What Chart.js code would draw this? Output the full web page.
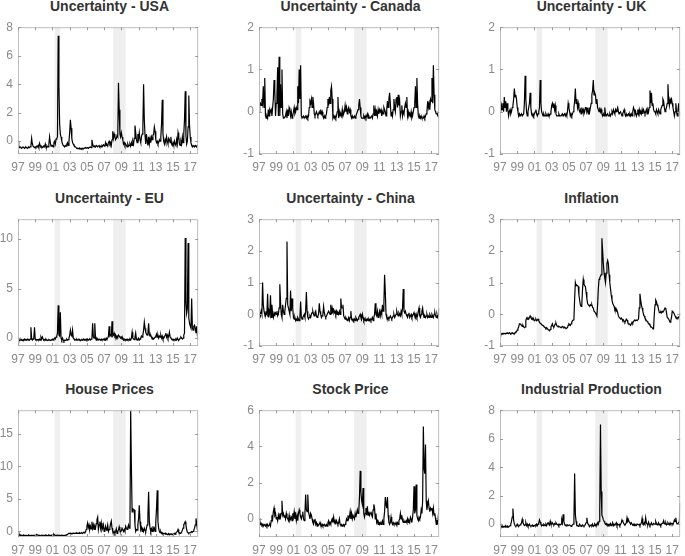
<!DOCTYPE html>
<html lang="en">
<head>
<meta charset="UTF-8">
<title>Uncertainty and macro series</title>
<script src="https://cdn.jsdelivr.net/npm/chart.js@4"></script>
<style>
    body {
        margin: 0;
        width: 685px;
        height: 556px;
        overflow: hidden;
        position: relative;
        background: #ffffff;
        font-family: 'Liberation Sans', Arial, sans-serif;
    }
    canvas { position: absolute; }
    .title {
        position: absolute;
        font-weight: bold;
        font-size: 14px;
        line-height: 16px;
        color: #333333;
        text-align: center;
        white-space: nowrap;
    }
</style>
</head>
<body>
<script>
// monthly data, Jan 1997 - Dec 2017, one row per year
const startYear = 1997;
const xTickYears = [1997, 1999, 2001, 2003, 2005, 2007, 2009, 2011, 2013, 2015, 2017];
const recessions = [[2001.25, 2001.9], [2008.05, 2009.5]];

const usa = [
    0.0, -0.35, -0.45, -0.4, -0.45, -0.5, -0.45, -0.4, -0.45, -0.5, -0.45, -0.4,
    -0.45, -0.5, -0.45, -0.4, -0.45, -0.4, -0.3, 0.2, -0.2, -0.35, -0.4, -0.45,
    -0.4, -0.45, -0.35, -0.4, -0.3, -0.45, -0.15, -0.3, -0.4, -0.35, -0.45, -0.4,
    -0.35, -0.4, -0.2, -0.4, -0.45, -0.35, -0.4, -0.2, 0.3, -0.1, -0.35, -0.3,
    -0.3, -0.4, -0.1, 0.0, -0.2, 0.15, 0.2, 0.3, 7.4, 3.9, 1.2, 0.5,
    0.3, 0.0, -0.2, -0.3, -0.35, -0.4, -0.3, -0.35, -0.2, -0.1, -0.3, 0.0,
    0.6, 1.5, 0.9, 0.2, -0.1, -0.2, -0.3, -0.35, -0.4, -0.45, -0.5, -0.5,
    -0.5, -0.55, -0.5, -0.55, -0.5, -0.55, -0.5, -0.55, -0.5, -0.5, -0.45, -0.5,
    -0.5, -0.45, -0.5, -0.45, -0.45, -0.4, -0.45, 0.1, -0.2, -0.35, -0.4, -0.35,
    -0.4, -0.3, -0.35, -0.4, -0.35, -0.3, -0.4, -0.35, -0.4, -0.3, -0.35, -0.25,
    -0.3, -0.35, -0.1, -0.3, -0.25, -0.35, -0.1, 0.0, -0.2, -0.1, -0.3, 0.1,
    0.7, 0.2, 0.5, 0.3, 0.1, 0.2, 0.4, 0.3, 4.1, 2.2, 0.5, 0.3,
    0.6, 0.3, 0.1, -0.2, -0.1, -0.3, -0.2, -0.3, -0.4, -0.2, -0.35, -0.3,
    -0.2, -0.35, -0.1, -0.3, 0.0, -0.2, 0.2, 1.1, 0.6, 0.1, -0.1, 0.5,
    0.2, 0.6, 0.1, -0.1, 0.3, 0.5, 1.0, 4.0, 1.5, 0.4, -0.2, 0.5,
    0.0, -0.3, 0.3, -0.2, 0.2, -0.1, 0.3, 0.1, 0.4, 0.5, 1.0, 0.7,
    0.1, -0.1, 0.0, -0.2, -0.1, 0.1, 0.0, 0.3, 1.2, 2.9, 0.5, 0.0,
    -0.2, 0.1, -0.1, 0.3, 0.0, -0.2, 0.2, 0.1, -0.1, 0.3, -0.2, -0.3,
    -0.1, -0.3, 0.0, -0.2, -0.3, 0.1, -0.2, 0.6, 0.3, -0.2, -0.3, 0.0,
    -0.2, 0.3, -0.1, 0.5, 1.5, 3.5, 0.4, -0.2, 0.0, 1.0, 3.2, 1.1,
    0.3, -0.1, -0.3, -0.4, -0.3, -0.35, -0.4, -0.3, -0.35, -0.4, -0.3, -0.3
];

const canada = [
    0.0, 0.15, 0.2, 0.15, 0.3, 0.2, 0.6, 0.1, 0.8, -0.1, -0.15, -0.1,
    -0.15, 0.05, -0.1, 0.05, 0.0, 0.05, -0.1, 0.1, 0.3, 0.75, 0.5, -0.1,
    0.2, 0.4, 1.05, -0.1, 1.3, -0.1, 0.65, 0.1, 1.0, -0.05, -0.15, -0.15,
    -0.15, -0.1, 0.0, -0.15, 0.05, -0.1, 0.1, 0.05, -0.1, 0.0, -0.15, -0.1,
    0.0, 0.1, -0.05, 0.0, 0.1, 0.05, 0.6, 0.2, 1.0, 0.3, 1.1, -0.1,
    -0.15, -0.15, -0.1, -0.15, -0.15, -0.1, -0.15, -0.1, -0.15, -0.1, 0.1, 0.25,
    0.2, 0.3, 0.1, 0.35, 0.2, -0.05, -0.1, -0.05, 0.0, -0.05, -0.1, -0.05,
    0.0, -0.05, 0.05, -0.05, 0.0, -0.1, -0.15, -0.1, -0.15, -0.1, -0.05, 0.1,
    0.3, 0.15, 0.35, 0.2, 0.5, 0.6, 0.3, -0.15, -0.1, -0.15, -0.1, -0.15,
    -0.1, 0.0, 0.35, -0.15, 0.0, -0.1, -0.05, -0.1, 0.05, -0.1, -0.05, 0.0,
    0.15, 0.0, 0.1, -0.05, 0.05, 0.1, 0.0, 0.05, -0.1, -0.15, -0.1, -0.15,
    -0.15, -0.1, -0.15, -0.1, -0.05, 0.0, 0.05, 0.15, 0.3, 0.1, -0.1, -0.15,
    -0.15, -0.15, -0.1, -0.15, -0.1, -0.15, -0.1, -0.05, -0.15, -0.1, -0.15, -0.15,
    -0.15, -0.1, -0.15, -0.05, 0.15, -0.1, 0.05, -0.1, 0.0, -0.1, 0.05, -0.05,
    0.05, 0.0, 0.05, -0.1, 0.0, -0.05, 0.1, 0.05, 0.0, -0.1, 0.05, 0.25,
    0.1, 0.3, 0.45, 0.2, -0.1, 0.0, -0.1, 0.05, 0.3, 0.1, 0.0, 0.3,
    0.35, 0.1, 0.4, 0.15, 0.25, -0.1, 0.0, 0.15, -0.1, 0.0, -0.05, 0.1,
    0.2, 0.1, 0.35, -0.1, 0.0, -0.1, -0.05, -0.1, 0.0, -0.15, -0.1, 0.0,
    0.1, 0.2, 0.6, 0.1, 0.8, 0.2, -0.1, -0.15, -0.1, -0.15, -0.1, -0.15,
    -0.15, -0.15, -0.1, -0.15, -0.1, -0.05, 0.0, 0.25, 0.1, 0.2, 0.05, 0.3,
    0.25, 0.8, 0.2, 1.1, 0.4, 0.05, 0.0, -0.05, 0.0, -0.1, -0.1, -0.15
];

const uk = [
    0.2, 0.0, 0.15, 0.05, 0.2, 0.0, 0.35, 0.1, 0.25, 0.0, 0.2, 0.05,
    -0.1, 0.0, 0.05, -0.05, 0.0, 0.1, 0.15, 0.3, 0.55, 0.35, 0.4, 0.3,
    0.1, 0.0, -0.1, -0.05, -0.1, -0.1, -0.05, -0.1, -0.1, -0.05, 0.2, 0.85,
    0.3, 0.0, -0.1, 0.0, 0.1, 0.2, 0.45, 0.1, -0.05, -0.1, -0.05, -0.1,
    -0.05, 0.0, 0.05, -0.05, -0.1, -0.05, 0.0, 0.1, 0.75, 0.2, 0.0, -0.05,
    -0.1, -0.05, -0.1, -0.1, -0.05, -0.1, -0.1, -0.05, -0.1, -0.1, -0.05, 0.0,
    0.15, 0.2, 0.1, 0.2, 0.05, 0.15, -0.05, -0.1, -0.1, -0.1, -0.05, -0.1,
    -0.1, -0.1, -0.1, -0.05, -0.1, -0.1, -0.05, -0.1, -0.05, -0.1, 0.0, 0.2,
    0.1, 0.0, -0.1, -0.05, -0.1, -0.05, 0.0, 0.1, 0.25, 0.55, 0.2, 0.3,
    0.1, 0.2, 0.05, 0.0, 0.05, -0.05, 0.1, 0.0, 0.05, -0.05, 0.0, 0.1,
    0.1, 0.0, 0.05, -0.05, 0.1, 0.0, 0.1, 0.2, 0.4, 0.5, 0.75, 0.4,
    0.45, 0.4, 0.2, 0.3, 0.1, 0.05, 0.0, 0.1, 0.0, 0.05, -0.05, -0.1,
    -0.05, -0.1, 0.1, -0.05, -0.1, -0.1, -0.05, -0.1, -0.1, -0.05, -0.1, -0.05,
    0.0, -0.05, 0.05, 0.0, -0.05, 0.05, 0.0, 0.05, 0.1, 0.0, -0.05, -0.05,
    0.0, -0.05, -0.1, -0.05, 0.0, 0.05, -0.05, -0.1, -0.05, -0.1, -0.1, -0.05,
    -0.1, -0.05, -0.1, -0.05, -0.1, 0.0, 0.1, 0.05, -0.05, 0.0, -0.1, -0.05,
    0.05, -0.05, 0.05, -0.05, 0.0, -0.05, 0.05, -0.05, 0.05, 0.0, -0.05, 0.0,
    0.05, -0.05, 0.05, 0.0, 0.1, 0.5, 0.2, 0.45, 0.15, 0.2, 0.05, 0.0,
    0.0, -0.05, 0.05, 0.0, -0.05, 0.05, 0.0, -0.05, 0.05, 0.1, 0.15, 0.3,
    0.25, 0.1, 0.0, 0.05, 0.1, 0.2, 0.65, 0.3, 0.15, 0.3, 0.25, 0.3,
    0.2, 0.1, 0.0, -0.1, 0.0, 0.2, 0.0, -0.1, 0.05, 0.2, 0.0, -0.1
];

const eu = [
    0.0, -0.2, -0.25, -0.2, -0.1, -0.2, -0.25, -0.15, -0.2, -0.1, -0.2, -0.15,
    -0.2, -0.1, -0.2, -0.15, -0.2, -0.1, 1.1, 0.0, -0.2, -0.1, 0.0, 1.1,
    -0.1, -0.2, -0.15, -0.2, -0.15, -0.2, -0.1, -0.2, 0.1, -0.1, 0.1, -0.1,
    -0.2, -0.15, -0.2, -0.1, -0.2, -0.25, -0.2, -0.15, -0.2, -0.25, -0.2, -0.15,
    -0.1, -0.2, -0.1, 0.0, -0.1, 0.1, 0.2, 0.5, 3.3, 0.3, 0.2, 2.6,
    0.0, -0.2, 0.0, -0.2, -0.3, -0.2, -0.25, -0.2, -0.1, -0.2, -0.15, 0.0,
    0.3, 0.8, 0.3, 0.2, 0.8, 0.0, -0.1, -0.2, -0.15, -0.2, -0.1, -0.2,
    -0.2, -0.1, -0.2, -0.25, -0.2, -0.15, -0.2, -0.1, -0.2, -0.15, -0.2, -0.1,
    -0.2, -0.1, -0.2, -0.15, -0.1, -0.2, -0.1, 0.0, 1.5, 0.1, 0.0, 1.5,
    0.0, -0.2, 0.0, -0.1, -0.2, -0.1, -0.15, -0.2, -0.1, -0.2, -0.15, -0.1,
    -0.2, -0.1, -0.2, 0.0, -0.1, 0.0, 0.2, 1.2, 0.2, 0.3, 0.2, 1.7,
    0.2, 0.3, 0.5, 0.2, 0.3, 0.0, 0.2, 0.1, 0.3, 0.2, 0.1, 0.0,
    0.1, -0.1, 0.0, -0.2, -0.1, -0.2, -0.15, -0.2, -0.1, -0.2, -0.15, -0.2,
    -0.1, -0.2, 0.0, 0.6, 0.0, -0.1, -0.15, 0.1, 0.5, -0.1, -0.2, -0.1,
    0.0, -0.2, -0.1, 0.0, 0.2, 0.1, 0.3, 0.8, 1.6, 1.0, 0.6, 0.4,
    0.3, 0.5, 1.5, 0.4, 0.2, 0.3, 0.1, -0.1, 0.0, -0.1, 0.0, 0.1,
    0.2, 0.4, 0.1, 0.3, 0.0, 0.2, 0.1, 0.3, 0.0, 0.2, -0.1, 0.0,
    0.1, 0.3, 0.5, 0.1, 0.3, 0.0, 0.2, 0.6, 0.1, 0.0, -0.1, -0.2,
    -0.1, -0.2, -0.15, -0.2, -0.1, -0.2, 0.0, -0.15, -0.2, -0.1, 0.0, 0.1,
    0.0, -0.1, 0.0, 0.3, 0.5, 10.1, 3.6, 2.5, 3.0, 9.6, 2.0, 1.5,
    1.2, 1.0, 4.0, 1.0, 0.8, 1.2, 1.3, 1.0, 0.5, 1.2, 0.3, 0.7
];

const china = [
    0.0, 0.05, -0.05, 0.1, 0.0, 1.0, 0.3, 0.1, 0.0, -0.05, 0.05, 0.0,
    0.65, -0.1, 0.1, 0.0, 0.6, -0.1, 0.3, 0.0, -0.1, 0.05, 0.0, 0.05,
    0.0, 0.1, -0.05, 0.0, 0.2, 0.95, 0.4, 0.0, -0.1, 0.3, 0.1, 0.0,
    0.1, 0.3, 0.5, 2.3, 0.3, 0.2, 0.1, 0.0, 0.75, 0.1, 0.5, 0.2,
    -0.1, -0.15, -0.1, -0.2, -0.15, -0.2, -0.1, -0.15, -0.2, -0.1, 0.4, -0.1,
    -0.15, -0.1, -0.05, 0.0, -0.1, 0.1, 0.7, 0.1, -0.1, -0.15, -0.1, -0.05,
    -0.1, 0.0, 0.05, 0.1, 0.0, -0.05, 0.05, 0.1, -0.05, -0.1, -0.05, 0.0,
    0.35, 0.1, 0.0, -0.1, -0.05, 0.0, 0.25, 0.05, -0.05, -0.1, -0.05, 0.0,
    0.0, 0.1, 0.05, 0.0, 0.3, 0.0, 0.2, 0.1, 0.15, 0.05, 0.1, 0.0,
    0.1, 0.0, 0.05, 0.0, 0.1, 0.0, 0.5, 0.2, 0.2, 0.3, -0.05, -0.1,
    -0.15, -0.1, -0.15, -0.2, -0.15, -0.1, -0.2, -0.1, 0.1, -0.15, -0.2, -0.15,
    -0.2, -0.15, -0.2, -0.1, -0.15, -0.2, -0.15, -0.1, -0.05, 0.0, -0.1, -0.15,
    0.0, -0.1, -0.2, -0.15, -0.2, -0.15, -0.2, -0.15, -0.2, -0.15, -0.2, -0.15,
    -0.2, -0.15, -0.1, -0.2, -0.1, 0.0, 0.35, 0.0, -0.05, 0.1, -0.1, 0.0,
    0.1, -0.05, 0.1, 0.0, 0.3, 0.1, 0.3, 1.25, 0.7, 0.0, -0.1, -0.15,
    -0.1, -0.15, -0.1, -0.05, -0.1, -0.15, -0.1, -0.05, 0.0, -0.1, -0.05, 0.0,
    0.1, 0.0, -0.05, 0.05, 0.0, -0.05, 0.1, 0.0, 0.2, 0.8, 0.1, 0.05,
    0.1, 0.0, -0.05, -0.1, 0.0, 0.05, -0.1, -0.05, 0.0, -0.1, -0.05, 0.0,
    0.05, -0.05, -0.1, 0.0, -0.1, -0.05, 0.1, 0.2, -0.05, -0.1, 0.0, 0.1,
    0.2, 0.0, -0.1, -0.05, -0.1, -0.05, 0.0, -0.1, -0.05, -0.1, 0.0, -0.05,
    -0.1, 0.0, -0.05, -0.1, 0.0, 0.05, -0.05, -0.1, 0.0, -0.1, -0.05, 0.2
];

const inflation = [
    -0.68, -0.65, -0.62, -0.6, -0.62, -0.6, -0.6, -0.62, -0.6, -0.6, -0.58, -0.6,
    -0.6, -0.58, -0.6, -0.62, -0.6, -0.58, -0.6, -0.6, -0.62, -0.58, -0.55, -0.55,
    -0.5, -0.45, -0.4, -0.3, -0.3, -0.32, -0.35, -0.38, -0.35, -0.4, -0.42, -0.4,
    -0.2, -0.12, -0.15, -0.12, -0.15, -0.1, -0.05, -0.1, -0.15, -0.12, -0.18, -0.15,
    -0.2, -0.18, -0.15, -0.2, -0.18, -0.15, -0.2, -0.25, -0.28, -0.3, -0.32, -0.35,
    -0.35, -0.38, -0.4, -0.42, -0.45, -0.42, -0.45, -0.48, -0.5, -0.52, -0.48, -0.4,
    -0.35, -0.3, -0.38, -0.4, -0.35, -0.3, -0.28, -0.35, -0.38, -0.4, -0.38, -0.4,
    -0.4, -0.42, -0.4, -0.38, -0.4, -0.42, -0.4, -0.42, -0.45, -0.45, -0.42, -0.35,
    -0.3, -0.32, -0.35, -0.3, -0.25, -0.2, -0.18, -0.15, 0.5, 1.0, 0.9, 0.92,
    0.9, 0.88, 0.6, 0.45, 0.3, 0.25, 0.3, 0.8, 1.1, 0.95, 0.9, 0.88,
    0.7, 0.5, 0.35, 0.3, 0.28, 0.25, 0.3, 0.28, 0.3, 0.22, 0.2, 0.1,
    0.1, 0.05, 0.0, -0.05, 0.3, 0.8, 1.1, 1.15, 1.2, 1.25, 2.4, 2.0,
    1.6, 1.3, 1.15, 1.0, 1.3, 1.6, 1.7, 1.6, 1.25, 1.0, 0.8, 0.6,
    0.45, 0.35, 0.3, 0.25, 0.15, 0.18, 0.1, 0.12, 0.05, -0.05, -0.1, -0.12,
    -0.15, -0.12, -0.15, -0.2, -0.18, -0.22, -0.25, -0.2, -0.15, -0.18, -0.25, -0.3,
    -0.3, -0.32, -0.35, -0.3, -0.25, -0.28, -0.22, -0.2, -0.18, -0.2, -0.18, -0.2,
    -0.2, -0.15, 0.2, 0.65, 0.45, 0.3, 0.2, 0.1, 0.0, -0.05, -0.12, -0.15,
    -0.2, -0.22, -0.25, -0.3, -0.3, -0.35, -0.38, -0.4, -0.42, -0.45, -0.45, 0.0,
    0.3, 0.45, 0.4, 0.3, 0.25, 0.15, 0.05, 0.05, 0.08, 0.05, 0.1, 0.08,
    0.1, 0.15, 0.2, 0.18, 0.05, -0.1, -0.12, -0.15, -0.2, -0.25, -0.2, -0.1,
    0.1, 0.08, 0.05, 0.0, -0.05, -0.1, -0.12, -0.1, -0.12, -0.08, -0.1, 0.05
];

const housePrices = [
    0.0, -0.3, -0.5, -0.6, -0.55, -0.6, -0.62, -0.6, -0.55, -0.6, -0.62, -0.6,
    -0.6, -0.62, -0.6, -0.55, -0.6, -0.62, -0.6, -0.58, -0.6, -0.62, -0.6, -0.6,
    -0.55, -0.6, -0.45, -0.55, -0.6, -0.58, -0.6, -0.62, -0.6, -0.55, -0.6, -0.6,
    -0.6, -0.58, -0.6, -0.55, -0.6, -0.62, -0.6, -0.55, -0.6, -0.58, -0.6, -0.55,
    -0.5, -0.55, -0.4, -0.55, -0.6, -0.58, -0.6, -0.55, -0.6, -0.6, -0.58, -0.6,
    -0.6, -0.58, -0.6, -0.62, -0.6, -0.58, -0.6, -0.55, -0.5, -0.45, -0.35, -0.3,
    -0.3, -0.25, -0.3, -0.35, -0.3, -0.25, -0.3, -0.3, -0.25, -0.3, -0.2, -0.3,
    -0.25, -0.3, -0.2, -0.3, -0.25, -0.2, -0.3, -0.2, -0.1, -0.2, -0.1, 0.3,
    0.8, 1.3, 0.6, 1.0, 0.3, 0.8, 0.4, 1.5, 0.5, 1.0, 0.3, 0.8,
    0.5, 1.2, 1.8, 2.2, 0.3, 1.0, 1.5, 0.5, 1.3, 0.2, 0.5, 1.0,
    0.0, 0.3, 0.8, 0.2, 0.4, 1.0, 0.0, 0.3, 0.6, 1.2, 1.6, 0.5,
    0.0, -0.2, 0.0, -0.3, 0.0, 0.4, -0.3, 0.0, 0.2, 0.7, 0.2, 0.0,
    0.1, 0.5, 0.5, 0.0, 0.3, 0.0, 0.8, 0.5, 0.3, 0.6, 1.0, 0.5,
    1.0, 18.6, 10.0, 3.0, 3.5, 3.3, 3.3, 1.0, 0.0, 0.3, 0.2, 1.0,
    2.0, 4.0, 1.5, 0.3, 0.6, 0.0, 0.3, 0.0, 0.5, 0.2, 0.0, 0.5,
    1.0, 2.5, 6.1, 1.5, 0.5, 0.0, 0.4, 0.0, 0.8, 0.2, 0.5, 0.0,
    1.5, 3.5, 6.3, 1.5, 0.5, 0.0, -0.2, 0.0, -0.3, -0.2, -0.4, -0.3,
    -0.3, -0.4, -0.3, -0.4, -0.5, -0.4, -0.3, -0.5, -0.4, -0.45, -0.4, -0.5,
    -0.4, -0.45, -0.3, -0.4, -0.2, -0.1, 0.0, 0.3, -0.1, -0.2, -0.3, -0.2,
    -0.1, 0.2, 0.5, 1.0, 1.3, 1.5, 1.0, 0.3, -0.1, -0.2, -0.3, -0.2,
    -0.2, -0.1, 0.0, -0.1, 0.0, 0.2, 0.5, 1.0, 2.0, 1.2, 0.3, 0.0
];

const stockPrice = [
    0.05, -0.1, -0.3, -0.25, -0.35, -0.3, -0.4, -0.3, -0.35, -0.4, -0.3, -0.4,
    -0.3, -0.4, -0.35, -0.3, -0.4, -0.1, 0.2, 0.0, 0.4, 0.6, 0.2, 0.3,
    0.0, 0.1, -0.1, 0.2, 0.0, 0.3, 0.1, 0.3, 1.0, 0.2, 0.3, 0.1,
    0.2, 0.0, 0.3, 0.1, 0.0, -0.1, 0.2, -0.1, 0.0, 0.1, -0.1, 0.3,
    0.1, 0.4, 0.0, 0.2, -0.1, 0.2, -0.1, 0.3, 0.5, 0.3, 0.1, 0.0,
    0.2, 0.4, 0.0, -0.1, 0.3, 1.35, 0.5, 0.4, 1.35, 0.4, 0.2, 0.0,
    0.3, 0.2, 0.0, -0.2, -0.3, -0.1, 0.0, -0.3, -0.2, -0.4, -0.3, -0.35,
    -0.3, -0.2, -0.35, -0.4, -0.3, -0.4, -0.35, -0.3, -0.4, -0.35, -0.3, -0.4,
    -0.2, -0.1, -0.3, -0.2, -0.3, -0.1, 0.0, -0.2, 0.1, -0.2, -0.1, -0.3,
    -0.1, -0.2, -0.3, -0.2, 0.0, -0.3, -0.35, -0.3, -0.4, -0.35, -0.3, -0.4,
    -0.3, -0.2, 0.0, -0.1, 0.2, 0.0, 0.1, 0.4, 0.0, 0.3, 0.0, 0.2,
    0.2, 0.0, 0.3, 0.1, 0.3, 0.5, 0.3, 0.4, 1.2, 2.65, 1.5, 1.0,
    0.8, 1.7, 0.3, 0.1, 0.3, 0.6, 0.2, 0.7, 0.2, 0.4, 0.2, 0.3,
    0.4, 0.2, 0.1, 0.5, 0.8, 0.6, 0.0, 0.3, -0.2, -0.1, -0.3, -0.2,
    -0.3, -0.2, -0.3, -0.2, -0.1, -0.3, 0.0, 0.4, 1.2, 0.8, 0.6, 1.2,
    0.2, -0.2, -0.3, -0.2, 0.1, -0.2, -0.3, -0.2, -0.3, -0.25, -0.3, -0.2,
    -0.3, -0.2, -0.3, -0.1, 0.0, 0.3, 0.0, 0.2, -0.1, -0.2, -0.1, -0.2,
    -0.2, -0.1, -0.2, 0.0, -0.2, -0.1, -0.2, 0.1, 0.0, -0.2, 0.1, 0.5,
    1.8, 0.3, 0.5, 1.9, 0.2, 0.0, -0.1, 0.1, 0.0, 0.1, 0.5, 0.3,
    1.0, 5.1, 2.8, 2.5, 4.1, 1.0, 0.5, 0.8, 1.0, 0.6, 0.4, 0.6,
    0.5, 0.6, 0.3, 0.6, 0.2, 0.3, 0.0, -0.3, -0.1, -0.2, 0.2, 0.6
];

const industrialProduction = [
    0.05, -0.1, -0.15, -0.2, -0.15, -0.2, -0.15, -0.2, -0.1, -0.15, -0.2, -0.15,
    -0.2, -0.15, -0.1, 0.0, 0.2, 0.5, 1.1, 0.3, 0.0, -0.1, -0.15, -0.1,
    0.0, -0.1, -0.15, -0.1, -0.05, 0.0, 0.1, 0.35, 0.1, 0.0, -0.1, -0.05,
    0.1, -0.1, 0.0, -0.15, -0.1, 0.0, -0.1, -0.15, -0.1, -0.05, -0.15, -0.1,
    -0.1, -0.05, -0.1, 0.0, -0.1, 0.0, 0.1, 0.3, 0.15, 0.0, -0.1, -0.05,
    -0.1, 0.0, -0.05, -0.1, 0.0, -0.1, 0.05, 0.1, 0.0, -0.05, 0.2, 0.0,
    0.0, 0.1, 0.0, -0.05, 0.05, 0.0, 0.1, 0.0, -0.05, 0.0, -0.1, 0.0,
    -0.05, 0.0, 0.3, 0.1, 0.7, 0.2, 0.0, -0.1, -0.05, -0.1, -0.05, -0.1,
    -0.1, -0.05, -0.1, -0.15, -0.1, -0.05, 0.0, 0.3, 3.55, 0.7, 0.2, -0.1,
    -0.1, -0.15, -0.1, 0.0, -0.1, -0.15, -0.1, -0.05, -0.1, -0.15, -0.1, 0.0,
    0.1, 0.45, 0.1, 0.0, -0.1, -0.15, -0.1, -0.05, -0.1, 0.0, -0.15, -0.1,
    0.0, -0.1, 0.0, -0.05, 0.1, 0.0, 0.2, 1.0, 7.0, 2.3, 0.6, 0.5,
    0.3, 0.2, 0.1, 0.0, 0.05, -0.05, 0.0, -0.1, 0.0, -0.05, 0.05, -0.1,
    -0.05, 0.1, -0.1, 0.0, -0.05, 0.0, 0.1, -0.1, 0.0, -0.05, 0.0, -0.1,
    0.0, 0.1, 0.3, 0.2, 0.1, 0.0, -0.05, 0.0, 0.1, 0.45, 0.2, 0.3,
    0.15, 0.1, 0.0, 0.1, 0.0, -0.05, 0.0, -0.1, 0.0, -0.05, -0.1, 0.0,
    0.0, -0.05, 0.0, -0.1, 0.0, 0.1, 0.4, 0.0, -0.05, 0.1, 0.0, 0.45,
    0.1, 0.0, -0.05, 0.15, 0.0, -0.1, 0.0, 0.1, -0.05, 0.0, 0.05, 0.0,
    0.0, 0.2, 0.05, -0.05, 0.0, 0.1, -0.05, 0.0, -0.1, 0.0, 0.05, 0.1,
    0.25, 0.05, 0.0, 0.1, -0.05, 0.0, 0.1, 0.0, -0.05, 0.1, 0.0, 0.05,
    0.05, 0.0, 0.1, 0.3, 0.2, 0.45, 0.1, 0.0, 0.05, 0.1, 0.2, 1.5
];

const panels = [
    { title: 'Uncertainty - USA', values: usa, yMin: -0.9, yMax: 8, yTicks: [0, 2, 4, 6, 8] },
    { title: 'Uncertainty - Canada', values: canada, yMin: -1, yMax: 2, yTicks: [-1, 0, 1, 2] },
    { title: 'Uncertainty - UK', values: uk, yMin: -1, yMax: 2, yTicks: [-1, 0, 1, 2] },
    { title: 'Uncertainty - EU', values: eu, yMin: -0.8, yMax: 12, yTicks: [0, 5, 10] },
    { title: 'Uncertainty - China', values: china, yMin: -1, yMax: 3, yTicks: [-1, 0, 1, 2, 3] },
    { title: 'Inflation', values: inflation, yMin: -1, yMax: 3, yTicks: [-1, 0, 1, 2, 3] },
    { title: 'House Prices', values: housePrices, yMin: -0.85, yMax: 18.6, yTicks: [0, 5, 10, 15] },
    { title: 'Stock Price', values: stockPrice, yMin: -1, yMax: 6, yTicks: [0, 2, 4, 6] },
    { title: 'Industrial Production', values: industrialProduction, yMin: -0.9, yMax: 8, yTicks: [0, 2, 4, 6, 8] }
];

// layout of the 3x3 grid (plot boxes in page pixels)
const colLeft = [18, 259, 500];
const rowTop = [17, 209, 400];
const plotW = 183, plotH = 137;
const axisW = 30, axisH = 24, padTop = 2, padRight = 2;
const tickColor = '#8a8a8a';
const boxColor = '#bdbdbd';

const dates = usa.map((_, i) => startYear + i / 12);

// recession shading, box and inward ticks like the original figure
const framePlugin = {
    id: 'frame',
    beforeDatasetsDraw(chart) {
        const { ctx, chartArea: a, scales: { x } } = chart;
        ctx.save();
        ctx.fillStyle = '#efefef';
        recessions.forEach(([s, e]) => {
            const x0 = x.getPixelForValue(s), x1 = x.getPixelForValue(e);
            ctx.fillRect(x0, a.top, x1 - x0, a.bottom - a.top);
        });
        ctx.restore();
    },
    afterDatasetsDraw(chart) {
        const { ctx, chartArea: a, scales: { x, y } } = chart;
        ctx.save();
        ctx.strokeStyle = boxColor;
        ctx.lineWidth = 1;
        ctx.strokeRect(a.left + 0.5, a.top + 0.5, a.right - a.left - 1, a.bottom - a.top - 1);
        ctx.strokeStyle = '#9a9a9a';
        ctx.beginPath();
        x.ticks.forEach(t => {
            const px = Math.round(x.getPixelForValue(t.value)) + 0.5;
            ctx.moveTo(px, a.top); ctx.lineTo(px, a.top + 3);
            ctx.moveTo(px, a.bottom); ctx.lineTo(px, a.bottom - 3);
        });
        y.ticks.forEach(t => {
            const py = Math.round(y.getPixelForValue(t.value)) + 0.5;
            ctx.moveTo(a.left, py); ctx.lineTo(a.left + 3, py);
            ctx.moveTo(a.right, py); ctx.lineTo(a.right - 3, py);
        });
        ctx.stroke();
        ctx.restore();
    }
};

panels.forEach((p, k) => {
    const left = colLeft[k % 3], top = rowTop[Math.floor(k / 3)];

    const title = document.createElement('div');
    title.className = 'title';
    title.textContent = p.title;
    title.style.left = left + 'px';
    title.style.width = plotW + 'px';
    title.style.top = (top - 19) + 'px';
    document.body.appendChild(title);

    const canvas = document.createElement('canvas');
    const w = axisW + plotW + padRight, h = padTop + plotH + axisH;
    canvas.width = w; canvas.height = h;
    canvas.style.width = w + 'px'; canvas.style.height = h + 'px';
    canvas.style.left = (left - axisW) + 'px';
    canvas.style.top = (top - padTop) + 'px';
    document.body.appendChild(canvas);

    new Chart(canvas.getContext('2d'), {
        type: 'line',
        data: {
            datasets: [{
                data: p.values.map((v, i) => ({ x: dates[i], y: v })),
                borderColor: '#000000',
                borderWidth: 1.2,
                pointRadius: 0,
                tension: 0,
                fill: false
            }]
        },
        options: {
            responsive: false,
            animation: false,
            devicePixelRatio: 1,
            layout: { padding: { top: padTop, right: padRight, left: 0, bottom: 0 } },
            plugins: { legend: { display: false }, tooltip: { enabled: false } },
            scales: {
                x: {
                    type: 'linear',
                    min: startYear,
                    max: dates[dates.length - 1],
                    afterBuildTicks: s => { s.ticks = xTickYears.map(v => ({ value: v })); },
                    afterFit: s => { s.height = axisH; },
                    grid: { display: false, drawTicks: false },
                    border: { display: false },
                    ticks: {
                        autoSkip: false,
                        maxRotation: 0,
                        padding: 6,
                        color: tickColor,
                        font: { family: "'Liberation Sans', Arial, sans-serif", size: 12 },
                        callback: v => String(v % 100).padStart(2, '0')
                    }
                },
                y: {
                    min: p.yMin,
                    max: p.yMax,
                    afterBuildTicks: s => { s.ticks = p.yTicks.map(v => ({ value: v })); },
                    afterFit: s => { s.width = axisW; },
                    grid: { display: false, drawTicks: false },
                    border: { display: false },
                    ticks: {
                        autoSkip: false,
                        padding: 5,
                        color: tickColor,
                        font: { family: "'Liberation Sans', Arial, sans-serif", size: 12 },
                        callback: v => String(v)
                    }
                }
            }
        },
        plugins: [framePlugin]
    });
});
</script>
</body>
</html>
